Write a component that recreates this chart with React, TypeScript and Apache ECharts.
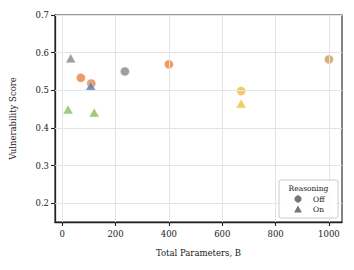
import React, { useEffect, useRef } from "react";
import * as echarts from "echarts";

const offParams = [70, 109, 235, 400, 671, 1000];
const offScores = [0.533, 0.518, 0.55, 0.569, 0.498, 0.582];
const offColors = ["#ec8b47", "#ec8b47", "#8e8e8e", "#ec8b47", "#f1c24a", "#cca35c"];

const onParams = [32, 107, 22, 120, 671];
const onScores = [0.585, 0.512, 0.449, 0.441, 0.465];
const onColors = ["#8e8e8e", "#5d82ab", "#8cc366", "#8cc366", "#f1c24a"];

const xTicks = [0, 200, 400, 600, 800, 1000];
const yTicks = [0.2, 0.3, 0.4, 0.5, 0.6, 0.7];

const legendTitle = "Reasoning";
const legendLabels = ["Off", "On"];
const xName = "Total Parameters, B";
const yName = "Vulnerability Score";

const FONT = "DejaVu Serif";

export default function App() {
  const ref = useRef<HTMLDivElement>(null);
  useEffect(() => {
    if (!ref.current) return;
    const chart = echarts.init(ref.current, null, { renderer: "svg" });
    const axisText = { fontFamily: FONT, fontSize: 8.5, color: "#222" };
    const mk = (xs: number[], ys: number[], cs: number[] | string[]) =>
      xs.map((x, i) => ({
        value: [x, ys[i]],
        itemStyle: { color: cs[i] as string },
      }));
    chart.setOption({
      animation: false,
      grid: {
        left: 55,
        top: 15,
        right: 12,
        bottom: 48,
        show: true,
        borderColor: "#333",
        borderWidth: 1.2,
      },
      xAxis: {
        type: "value",
        min: -27,
        max: 1049,
        name: xName,
        nameLocation: "middle",
        nameGap: 26,
        nameTextStyle: { fontFamily: FONT, fontSize: 8.5, color: "#222" },
        axisLine: { show: true, onZero: false, lineStyle: { color: "#222", width: 1.3 } },
        axisTick: { show: true, length: 4, lineStyle: { color: "#222", width: 1.1 }, customValues: xTicks },
        axisLabel: { ...axisText, margin: 7, customValues: xTicks, formatter: (v: number) => String(v) },
        splitLine: { show: false },
      },
      yAxis: {
        type: "value",
        min: 0.15,
        max: 0.7,
        name: yName,
        nameLocation: "middle",
        nameGap: 38,
        nameTextStyle: { fontFamily: FONT, fontSize: 8.5, color: "#222" },
        axisLine: { show: true, onZero: false, lineStyle: { color: "#222", width: 1.3 } },
        axisTick: { show: true, length: 4, lineStyle: { color: "#222", width: 1.1 }, customValues: yTicks },
        axisLabel: { ...axisText, margin: 6, customValues: yTicks, formatter: (v: number) => v.toFixed(1) },
        splitLine: { show: false },
      },
      series: [
        {
          type: "line",
          data: [],
          markLine: {
            silent: true,
            symbol: "none",
            label: { show: false },
            lineStyle: { color: "#e4e4e4", width: 1, type: "solid" },
            data: [
              ...xTicks.map((v) => ({ xAxis: v })),
              ...yTicks.map((v) => ({ yAxis: v })),
            ],
          },
          z: 0,
        },
        {
          name: "Off",
          type: "scatter",
          symbol: "circle",
          symbolSize: 9,
          itemStyle: { opacity: 0.85, borderColor: "rgba(255,255,255,0.55)", borderWidth: 0.8 },
          data: mk(offParams, offScores, offColors),
          z: 3,
        },
        {
          name: "On",
          type: "scatter",
          symbol: "triangle",
          symbolSize: [10, 9],
          itemStyle: { opacity: 0.85, borderColor: "rgba(255,255,255,0.55)", borderWidth: 0.8 },
          data: mk(onParams, onScores, onColors),
          z: 4,
        },
      ],
      graphic: [
        {
          type: "rect",
          shape: { x: 279, y: 180, width: 59, height: 38, r: 2 },
          style: { fill: "rgba(255,255,255,0.85)", stroke: "#cccccc", lineWidth: 1 },
          z: 10,
        },
        {
          type: "text",
          x: 308.5,
          y: 188,
          style: { text: legendTitle, fontFamily: FONT, fontSize: 7.5, fill: "#222", align: "center", verticalAlign: "middle" },
          z: 11,
        },
        {
          type: "circle",
          shape: { cx: 298, cy: 199, r: 3.6 },
          style: { fill: "#777777" },
          z: 11,
        },
        {
          type: "polygon",
          shape: { points: [[298, 205.5], [302, 212.5], [294, 212.5]] },
          style: { fill: "#777777" },
          z: 11,
        },
        {
          type: "text",
          x: 313,
          y: 199,
          style: { text: legendLabels[0], fontFamily: FONT, fontSize: 7.5, fill: "#222", align: "left", verticalAlign: "middle" },
          z: 11,
        },
        {
          type: "text",
          x: 313,
          y: 209.5,
          style: { text: legendLabels[1], fontFamily: FONT, fontSize: 7.5, fill: "#222", align: "left", verticalAlign: "middle" },
          z: 11,
        },
      ],
    });
    return () => chart.dispose();
  }, []);
  return (
    <div
      ref={ref}
      style={{ position: "fixed", left: 0, top: 0, width: 354, height: 270, background: "#fff" }}
    />
  );
}
